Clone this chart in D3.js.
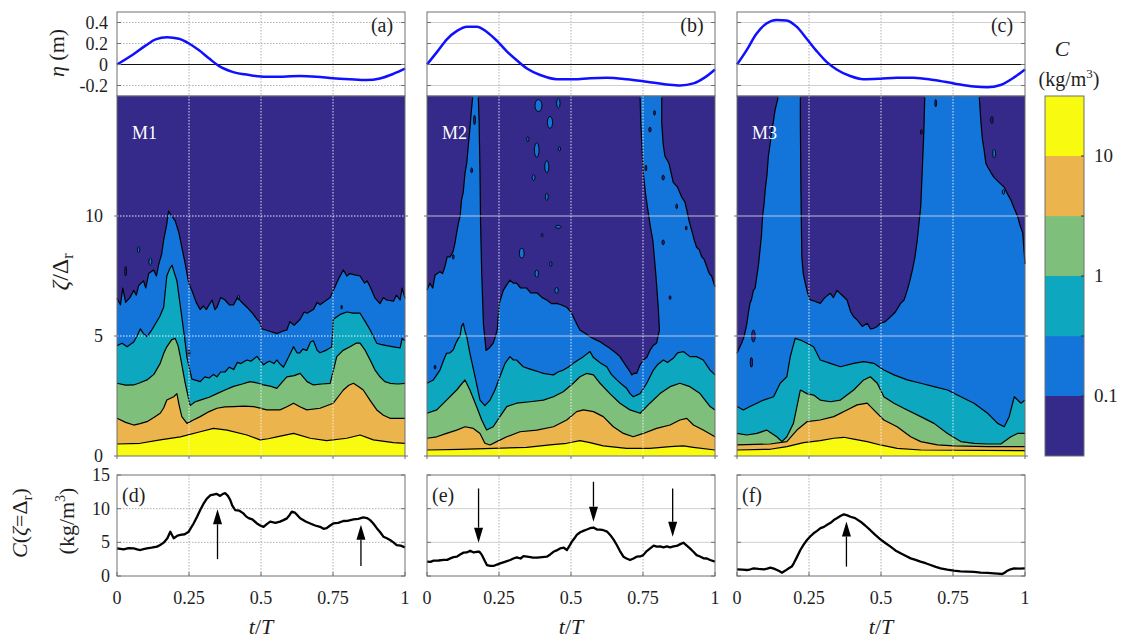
<!DOCTYPE html>
<html>
<head>
<meta charset="utf-8">
<script src="https://cdn.jsdelivr.net/npm/d3@7"></script>
<style>
  body { margin: 0; background: #fff; }
</style>
</head>
<body>
<svg id="fig" width="1126" height="642"></svg>
<script>
// ---------- axis ticks and labels ----------
const tTicks = [0, 0.25, 0.5, 0.75, 1];
const tTickLabels = ["0", "0.25", "0.5", "0.75", "1"];
const etaTicks = [-0.2, 0, 0.2, 0.4];
const etaTickLabels = ["-0.2", "0", "0.2", "0.4"];
const zetaTicks = [0, 5, 10];
const concTicks = [0, 5, 10, 15];
const cbTicks = [0.1, 1, 10];
const cbTickLabels = ["0.1", "1", "10"];

// contour levels of C (kg/m^3) and the colour of each band (lowest band first)
const levelValues = [0.1, 0.316, 1, 3.16, 10];
const bandColors = ["#35298A", "#1374DA", "#0DA8BF", "#7DBF7B", "#EBB44C", "#F8FA10"];

const topLetters = ["(a)", "(b)", "(c)"];
const botLetters = ["(d)", "(e)", "(f)"];
const caseNames = ["M1", "M2", "M3"];

// ---------- free-surface elevation eta(t/T), m ----------
const etaA = [[0,0],[.052,.088],[.099,.18],[.134,.24],[.174,.26],[.215,.245],[.25,.2],[.285,.135],[.32,.057],[.355,-.016],[.401,-.07],[.459,-.1],[.517,-.116],[.576,-.116],[.634,-.11],[.692,-.116],[.75,-.13],[.808,-.14],[.866,-.148],[.913,-.133],[.959,-.09],[1,-.04]];
const etaB = [[0,0],[.035,.12],[.069,.24],[.104,.32],[.139,.36],[.173,.36],[.208,.31],[.243,.225],[.277,.126],[.312,.04],[.347,-.038],[.393,-.1],[.451,-.14],[.509,-.14],[.566,-.13],[.624,-.126],[.694,-.14],[.763,-.164],[.832,-.19],[.879,-.2],[.925,-.18],[.965,-.123],[1,-.047]];
const etaC = [[0,0],[.033,.135],[.067,.29],[.102,.39],[.137,.425],[.172,.42],[.207,.36],[.242,.245],[.276,.13],[.311,.025],[.346,-.047],[.393,-.11],[.439,-.14],[.497,-.135],[.555,-.126],[.613,-.126],[.683,-.148],[.753,-.18],[.822,-.21],[.869,-.217],[.915,-.195],[.962,-.123],[1,-.047]];

// ---------- contour lines zeta/Delta_r(t/T) for each level, case M1 ----------
const m1_c01 = [[0,6.57],[.012,6.3],[.02,7.0],[.03,6.4],[.045,6.6],[.058,6.9],[.067,6.7],[.075,7.1],[.092,7.3],[.1,7.0],[.11,7.6],[.127,7.75],[.137,7.5],[.145,8.0],[.155,8.4],[.162,9.0],[.172,9.6],[.179,10.2],[.19,10.0],[.202,9.8],[.215,9.3],[.225,8.7],[.237,8.0],[.249,7.2],[.26,6.9],[.275,6.4],[.289,6.1],[.3,6.25],[.31,6.1],[.33,6.5],[.34,6.1],[.347,6.2],[.36,6.6],[.375,6.5],[.39,6.3],[.405,6.3],[.418,6.6],[.43,6.45],[.451,6.2],[.47,5.95],[.486,5.7],[.495,5.6],[.503,5.3],[.53,5.2],[.555,5.1],[.575,5.2],[.59,5.25],[.6,5.6],[.615,5.45],[.636,5.7],[.65,6.0],[.66,5.95],[.682,6.1],[.695,6.4],[.705,6.3],[.728,6.5],[.74,6.6],[.751,6.9],[.77,7.4],[.786,7.75],[.798,7.5],[.809,7.6],[.825,7.55],[.844,7.5],[.86,7.2],[.868,7.3],[.879,7.05],[.895,6.6],[.913,6.35],[.925,6.6],[.936,6.5],[.96,6.45],[.97,6.7],[.983,6.5],[.99,7.0],[1,6.57]];
const m1_c03 = [[0,4.6],[.018,4.7],[.035,4.55],[.058,4.75],[.07,5.0],[.081,5.3],[.092,5.1],[.104,4.97],[.118,5.2],[.133,5.5],[.148,5.8],[.162,6.2],[.173,7.5],[.183,7.8],[.191,7.95],[.2,7.6],[.208,7.3],[.217,6.5],[.225,5.8],[.235,4.9],[.243,4.1],[.26,3.2],[.275,3.15],[.289,3.1],[.305,3.3],[.32,3.25],[.335,3.4],[.347,3.3],[.36,3.5],[.375,3.5],[.39,3.7],[.405,3.6],[.418,3.9],[.43,3.85],[.451,4.0],[.465,3.95],[.486,4.15],[.509,3.8],[.52,3.9],[.53,3.95],[.545,3.85],[.555,4.0],[.565,3.85],[.578,3.7],[.595,4.1],[.613,4.55],[.625,4.3],[.635,4.3],[.645,4.45],[.659,4.4],[.672,4.75],[.682,4.8],[.695,4.4],[.705,4.3],[.725,4.4],[.746,4.55],[.751,5.7],[.775,5.9],[.798,6.0],[.82,5.95],[.844,5.95],[.862,5.6],[.879,5.25],[.902,4.7],[.915,4.65],[.936,4.6],[.96,4.55],[.983,4.5],[.99,4.9],[1,4.8]];
const m1_c1 = [[0,3.03],[.03,2.95],[.058,2.96],[.08,3.05],[.104,3.17],[.128,3.4],[.15,3.86],[.163,4.3],[.173,4.55],[.19,4.85],[.202,4.9],[.212,4.6],[.22,4.14],[.237,3.03],[.254,2.1],[.27,2.25],[.289,2.33],[.32,2.45],[.347,2.6],[.375,2.75],[.405,2.9],[.435,3.0],[.462,3.1],[.485,3.05],[.509,2.96],[.535,2.9],[.555,2.82],[.575,3.1],[.59,3.3],[.615,3.35],[.636,3.44],[.66,3.1],[.682,2.96],[.71,3.0],[.74,3.03],[.752,3.6],[.763,4.14],[.785,4.4],[.809,4.55],[.83,4.7],[.844,4.7],[.862,4.4],[.879,4.0],[.895,3.6],[.913,3.3],[.93,3.1],[.948,3.03],[.975,3.0],[1,3.03]];
const m1_c3 = [[0,1.57],[.03,1.4],[.058,1.29],[.08,1.35],[.104,1.43],[.128,1.6],[.15,1.78],[.162,2.0],[.173,2.33],[.197,2.47],[.208,2.6],[.216,2.1],[.225,1.64],[.243,1.36],[.265,1.5],[.289,1.64],[.32,1.85],[.347,1.99],[.375,2.05],[.405,2.06],[.44,2.08],[.474,2.06],[.52,1.92],[.566,1.92],[.59,2.05],[.613,2.2],[.635,2.05],[.659,1.92],[.705,1.99],[.751,2.2],[.77,2.5],[.786,2.75],[.805,2.95],[.821,3.03],[.838,2.9],[.855,2.75],[.88,2.3],[.902,1.92],[.925,1.7],[.948,1.57],[1,1.57]];
const m1_c10 = [[0,.5],[.081,.53],[.15,.67],[.22,.8],[.289,1.01],[.335,1.15],[.382,1.08],[.451,.875],[.497,.67],[.525,.72],[.555,.8],[.613,.94],[.671,.74],[.728,.64],[.798,.74],[.844,.875],[.89,.67],[.96,.56],[1,.53]];

// ---------- contour lines, case M2 ----------
const m2_c01 = [[0,6.92],[.01,7.2],[.02,7.0],[.028,7.54],[.045,7.68],[.054,7.6],[.0625,7.9],[.07,8.3],[.08,8.3],[.09,8.5],[.097,8.86],[.103,9.3],[.109,9.7],[.115,10.0],[.12,10.67],[.126,11.0],[.132,11.8],[.138,12.2],[.144,13.0],[.148,13.5],[.152,14.1],[.159,15],[.178,15],[.181,13.9],[.184,11.8],[.186,9.7],[.19,7.6],[.196,5.5],[.205,4.4],[.216,4.5],[.23,4.7],[.244,5.25],[.251,6.36],[.265,6.9],[.275,7.1],[.288,7.33],[.3,7.2],[.311,7.2],[.325,7.0],[.346,7.0],[.36,6.8],[.381,6.8],[.4,6.6],[.416,6.5],[.432,6.35],[.45,6.36],[.465,6.3],[.485,6.2],[.5,6.0],[.508,5.8],[.52,5.5],[.531,5.25],[.55,5.1],[.566,4.97],[.585,4.85],[.601,4.76],[.62,4.6],[.635,4.49],[.655,4.3],[.67,4.14],[.683,3.9],[.693,3.72],[.703,3.55],[.711,3.38],[.72,3.45],[.728,3.44],[.74,3.8],[.751,4.0],[.763,4.1],[.774,4.4],[.785,4.6],[.797,4.7],[.807,5.25],[.803,6.2],[.795,7.5],[.79,8.2],[.784,9.0],[.775,9.6],[.765,10.4],[.758,11.0],[.751,11.8],[.748,12.5],[.745,13.2],[.742,14.0],[.74,15],[.815,15],[.815,13.9],[.82,13.0],[.826,12.5],[.84,12.2],[.855,11.4],[.87,11.2],[.884,10.8],[.895,10.6],[.902,10.25],[.91,9.8],[.919,9.4],[.928,9.0],[.936,8.7],[.945,8.6],[.954,8.3],[.962,8.2],[.971,7.9],[.98,7.6],[.988,7.5],[1,7.05]];
const m2_c03 = [[0,3.03],[.022,3.17],[.045,3.58],[.058,4.0],[.068,4.28],[.08,4.3],[.091,4.42],[.1,4.7],[.109,4.9],[.115,5.0],[.12,5.4],[.126,5.53],[.132,5.2],[.138,4.97],[.149,4.28],[.167,3.3],[.184,2.33],[.201,2.1],[.219,2.33],[.236,2.75],[.253,3.3],[.271,3.86],[.288,4.14],[.3,4.0],[.311,4.0],[.334,3.72],[.35,3.65],[.369,3.58],[.39,3.5],[.404,3.44],[.425,3.4],[.439,3.38],[.455,3.5],[.473,3.58],[.49,3.7],[.508,3.86],[.525,4.0],[.543,4.14],[.566,4.35],[.578,4.1],[.589,4.0],[.605,3.85],[.624,3.72],[.64,3.4],[.659,3.17],[.675,3.0],[.693,2.82],[.705,2.6],[.716,2.47],[.74,2.6],[.763,3.03],[.786,3.58],[.8,3.8],[.821,4.0],[.835,3.9],[.855,4.07],[.87,4.3],[.89,4.35],[.913,4.14],[.936,4.14],[.959,4.0],[.983,3.58],[1,3.38]];
const m2_c1 = [[0,1.78],[.034,1.92],[.068,2.33],[.103,2.75],[.12,3.0],[.132,3.17],[.149,2.75],[.172,2.06],[.19,1.5],[.207,1.08],[.23,1.22],[.253,1.64],[.277,2.06],[.311,2.2],[.358,2.26],[.404,2.33],[.439,2.47],[.473,2.68],[.508,3.03],[.531,3.3],[.554,3.44],[.578,3.38],[.601,3.03],[.635,2.6],[.67,2.2],[.705,1.92],[.74,1.78],[.774,2.2],[.809,2.6],[.844,2.89],[.878,3.03],[.913,2.89],[.948,2.6],[.983,2.06],[1,1.92]];
const m2_c3 = [[0,.74],[.034,.8],[.068,.94],[.103,1.08],[.132,1.22],[.161,1.15],[.184,.94],[.201,.53],[.219,.46],[.242,.6],[.277,.8],[.323,1.01],[.381,1.08],[.439,1.22],[.485,1.5],[.52,1.85],[.543,1.92],[.578,1.85],[.612,1.64],[.647,1.22],[.682,.94],[.716,.8],[.751,.94],[.797,1.15],[.844,1.29],[.878,1.5],[.902,1.57],[.925,1.29],[.959,1.08],[1,.8]];
const m2_c10 = [[0,.25],[.115,.28],[.23,.32],[.346,.36],[.427,.46],[.485,.53],[.531,.64],[.566,.56],[.612,.42],[.693,.32],[.774,.32],[.844,.39],[.89,.42],[.925,.36],[1,.25]];

// ---------- contour lines, case M3 ----------
const m3_c01 = [[0,4.28],[.008,4.5],[.016,4.7],[.025,5.0],[.034,5.5],[.04,6.0],[.045,6.36],[.05,6.5],[.057,6.9],[.063,7.0],[.069,7.5],[.075,8.0],[.08,8.6],[.085,9.2],[.089,10.0],[.094,10.5],[.098,11.1],[.104,11.7],[.109,12.5],[.115,13.0],[.121,13.6],[.126,13.9],[.132,14.4],[.138,14.7],[.144,15],[.22,15],[.22,13.9],[.222,11.1],[.225,8.3],[.23,7.6],[.237,7.2],[.245,6.8],[.254,6.5],[.27,6.45],[.289,6.36],[.305,6.6],[.324,6.78],[.335,6.6],[.347,6.9],[.365,6.7],[.382,6.5],[.395,6.0],[.405,5.8],[.417,5.67],[.435,5.4],[.452,5.53],[.463,5.3],[.475,5.32],[.487,5.4],[.498,5.53],[.515,5.6],[.533,5.8],[.55,6.0],[.568,6.36],[.58,6.5],[.591,6.9],[.6,7.3],[.609,7.75],[.618,8.3],[.626,9.0],[.632,9.7],[.638,10.4],[.643,11.8],[.646,12.7],[.649,13.6],[.652,15],[.841,15],[.847,13.9],[.852,13.2],[.858,12.75],[.864,12.2],[.87,12.05],[.882,11.8],[.893,11.6],[.91,11.4],[.928,11.2],[.94,10.9],[.951,10.67],[.963,10.3],[.974,10.0],[.983,9.6],[.992,9.3],[1,8.0]];
const m3_c03 = [[0,2.06],[.022,1.92],[.045,2.06],[.069,2.2],[.092,2.33],[.127,2.47],[.15,3.03],[.173,3.3],[.185,4.14],[.202,4.9],[.22,4.83],[.243,4.7],[.266,4.55],[.289,4.0],[.324,3.86],[.359,3.72],[.405,3.86],[.44,3.93],[.475,3.86],[.51,3.58],[.545,3.38],[.591,3.17],[.638,3.03],[.684,2.89],[.731,2.75],[.777,2.47],[.823,2.2],[.87,1.78],[.905,1.36],[.928,1.22],[.945,1.64],[.963,2.47],[.986,2.2],[1,2.33]];
const m3_c1 = [[0,.94],[.034,.875],[.069,.94],[.103,1.08],[.138,.8],[.156,.6],[.173,.8],[.196,1.36],[.22,2.75],[.243,2.6],[.266,2.54],[.289,2.33],[.324,2.26],[.359,2.33],[.405,2.75],[.44,3.17],[.463,3.3],[.487,3.03],[.51,2.47],[.545,2.2],[.591,1.92],[.638,1.64],[.684,1.36],[.731,.94],[.777,.6],[.823,.53],[.87,.5],[.916,.5],[.951,.8],[.974,.94],[1,.94]];
const m3_c3 = [[0,.46],[.115,.5],[.173,.6],[.208,1.08],[.243,1.43],[.289,1.5],[.336,1.64],[.382,1.92],[.417,2.13],[.452,2.2],[.475,1.92],[.51,1.5],[.556,1.22],[.603,.8],[.638,.6],[.696,.46],[.754,.42],[.87,.39],[1,.39]];
const m3_c10 = [[0,.25],[.115,.28],[.173,.39],[.231,.56],[.289,.64],[.336,.74],[.371,.78],[.405,.7],[.452,.6],[.498,.46],[.556,.32],[.638,.25],[1,.22]];

// ---------- detached patches: [t/T, zeta, half-width in t/T, half-height in zeta] ----------
// "up" patches carry C > 0.1 inside the low-concentration region, "down" are low-C holes
const m1_up = [[.075,8.6,.004,.12],[.116,8.1,.005,.15],[.422,6.6,.004,.1]];
const m1_down = [[.03,7.7,.003,.2],[.25,4.3,.003,.12],[.78,6.2,.002,.08]];
const m2_up = [[.387,14.6,.012,.25],[.427,13.9,.009,.25],[.456,14.7,.006,.2],[.381,12.75,.008,.3],[.416,12.05,.007,.25],[.416,10.8,.005,.15],[.329,8.45,.008,.2],[.381,7.6,.006,.15],[.45,6.9,.006,.12],[.456,9.55,.01,.06],[.35,13.2,.004,.1],[.4,9.2,.003,.07],[.46,12.8,.004,.08],[.37,11.6,.005,.12],[.43,8.0,.004,.1]];
const m2_down = [[.774,13.6,.004,.1],[.82,11.6,.004,.1],[.867,10.4,.003,.1],[.82,8.9,.004,.1],[.844,6.6,.003,.08],[.155,11.9,.003,.1],[.091,8.3,.003,.1],[.028,3.7,.003,.08],[.165,14.0,.003,.2],[.76,12.0,.003,.12],[.9,9.5,.003,.08],[.79,14.3,.003,.1]];
const m3_up = [[.893,12.6,.005,.18],[.925,11.0,.004,.1]];
const m3_down = [[.057,5.0,.006,.25],[.05,3.9,.004,.2],[.69,14.7,.003,.15],[.885,14.0,.004,.15],[.64,13.5,.003,.1]];

// ---------- near-bed concentration C(zeta = Delta_r), kg/m^3 ----------
const concA = [[0,4.1],[.023,3.96],[.04,4.15],[.058,4.1],[.07,3.95],[.081,3.86],[.092,4.0],[.104,4.1],[.12,4.2],[.139,4.36],[.15,4.6],[.162,4.95],[.175,5.6],[.185,6.58],[.197,5.6],[.21,6.0],[.22,6.1],[.235,6.2],[.249,6.58],[.266,7.8],[.278,8.8],[.289,9.8],[.3,10.7],[.312,11.5],[.325,12.0],[.335,12.1],[.345,12.2],[.358,11.9],[.368,12.2],[.376,12.3],[.385,11.9],[.393,11.3],[.4,10.5],[.41,9.8],[.425,9.7],[.439,9.3],[.447,8.9],[.457,8.6],[.47,8.4],[.486,7.8],[.497,7.5],[.509,7.3],[.52,7.7],[.532,8.07],[.55,7.9],[.566,8.07],[.578,8.3],[.59,8.56],[.6,9.1],[.607,9.55],[.618,9.4],[.627,9.0],[.636,8.56],[.655,8.1],[.671,7.8],[.688,7.5],[.705,7.3],[.717,7.0],[.728,7.1],[.74,7.5],[.751,7.8],[.768,7.9],[.786,8.17],[.8,8.2],[.821,8.4],[.838,8.5],[.855,8.7],[.868,8.6],[.879,8.3],[.89,7.8],[.902,7.1],[.914,6.5],[.925,5.84],[.937,5.6],[.948,5.35],[.96,5.0],[.971,4.6],[.985,4.5],[1,4.26]];
const concB = [[0,2.13],[.012,2.1],[.023,2.28],[.04,2.3],[.058,2.38],[.07,2.4],[.081,2.62],[.092,2.8],[.104,2.87],[.115,3.2],[.127,3.47],[.138,3.5],[.15,3.76],[.162,3.5],[.173,3.6],[.182,3.6],[.191,3.1],[.2,2.3],[.208,1.63],[.22,1.5],[.231,1.49],[.243,1.7],[.254,1.88],[.27,2.1],[.289,2.38],[.3,2.6],[.312,2.77],[.325,2.6],[.335,2.95],[.347,2.87],[.365,2.75],[.382,2.72],[.4,2.8],[.416,2.87],[.428,3.2],[.439,3.6],[.45,3.8],[.462,4.1],[.475,4.2],[.486,3.86],[.495,4.5],[.503,5.1],[.512,5.6],[.52,6.1],[.532,6.5],[.543,6.7],[.555,6.9],[.566,7.1],[.578,7.2],[.59,6.9],[.601,6.9],[.613,6.8],[.625,6.6],[.636,6.1],[.648,5.4],[.659,4.6],[.67,3.7],[.682,2.87],[.693,2.6],[.705,2.38],[.717,2.6],[.728,2.87],[.74,2.9],[.751,3.1],[.763,3.7],[.775,4.1],[.787,4.5],[.798,4.36],[.81,4.4],[.821,4.26],[.833,4.4],[.844,4.26],[.856,4.4],[.867,4.46],[.878,4.7],[.89,4.95],[.9,4.6],[.913,4.1],[.925,3.6],[.936,3.1],[.948,2.9],[.96,2.62],[.972,2.6],[.983,2.38],[1,2.13]];
const concC = [[0,.99],[.018,.95],[.035,.89],[.047,1.0],[.058,1.14],[.075,1.05],[.093,.99],[.105,1.1],[.116,1.24],[.128,1.1],[.139,.89],[.148,.7],[.156,.5],[.168,.8],[.18,1.14],[.19,1.4],[.197,1.88],[.208,2.8],[.22,3.86],[.232,4.7],[.243,5.35],[.255,5.9],[.266,6.34],[.278,6.7],[.29,7.1],[.302,7.3],[.313,7.6],[.325,7.9],[.336,8.3],[.348,8.6],[.359,8.9],[.371,9.16],[.383,9.0],[.394,8.8],[.41,8.6],[.429,8.07],[.445,7.5],[.463,6.8],[.48,6.1],[.498,5.45],[.515,4.9],[.533,4.36],[.55,3.8],[.568,3.37],[.585,3.0],[.603,2.62],[.62,2.4],[.637,2.13],[.655,1.9],[.672,1.63],[.69,1.35],[.707,1.14],[.73,0.95],[.753,.79],[.776,.7],[.8,.64],[.823,.6],[.846,.5],[.87,.45],[.892,.4],[.905,.35],[.921,.3],[.93,.5],[.939,.79],[.95,1.0],[.962,1.14],[.98,1.1],[1,1.14]];

// ---------- arrows: [t/T, tail C, head C] ----------
const arrowsA = [[.349, 2.5, 9.9], [.847, 1.5, 7.6]];
const arrowsB = [[.179, 13.0, 4.95], [.578, 14.0, 8.07], [.853, 13.0, 5.84]];
const arrowsC = [[.38, 1.4, 8.1]];

// ---------- assemble per column ----------
const etaSeries = [etaA, etaB, etaC];
const contourSets = [
  [m1_c01, m1_c03, m1_c1, m1_c3, m1_c10],
  [m2_c01, m2_c03, m2_c1, m2_c3, m2_c10],
  [m3_c01, m3_c03, m3_c1, m3_c3, m3_c10]
];
const patchesUp = [m1_up, m2_up, m3_up];
const patchesDown = [m1_down, m2_down, m3_down];
const concSeries = [concA, concB, concC];
const arrowSets = [arrowsA, arrowsB, arrowsC];

// ---------- layout ----------
const FONT = "Liberation Serif, Liberation Sans, Arial, sans-serif";
const svg = d3.select("#fig").style("font-family", FONT);
const defs = svg.append("defs");
const colLeft = [117, 427, 737];
const colW = 288;
const etaBox = [12, 96];
const conBox = [96, 456];
const concBox = [475, 576];
const frameColor = "#707070";
const tickFont = 18;

function txt(g) {
  return g.append("text").style("font-family", FONT).attr("fill", "#1e1e1e");
}
function hGridStyle(sel, col, onDark) {
  if (onDark) {
    sel.attr("stroke", col === 0 ? "#ffffff" : "#d8d8e0")
       .attr("stroke-opacity", col === 0 ? 0.9 : 0.85)
       .attr("stroke-width", 1)
       .attr("stroke-dasharray", col === 0 ? "1.5,1.5" : null);
  } else {
    sel.attr("stroke", col === 0 ? "#b0b0b0" : "#d0d0d0")
       .attr("stroke-width", 1)
       .attr("stroke-dasharray", col === 0 ? "1.5,1.5" : null);
  }
}
function vGridStyle(sel, onDark) {
  sel.attr("stroke", onDark ? "#ffffff" : "#b0b0b0")
     .attr("stroke-opacity", onDark ? 0.85 : 1)
     .attr("stroke-width", 1)
     .attr("stroke-dasharray", "1.5,1.5");
}
function tickText(g, data, fmt) {
  return g.selectAll(null).data(data).join("text")
    .style("font-family", FONT).attr("fill", "#1e1e1e")
    .attr("font-size", tickFont).text(fmt);
}

for (let c = 0; c < 3; c++) {
  const x0 = colLeft[c], x1 = colLeft[c] + colW;
  const x = d3.scaleLinear().domain([0, 1]).range([x0, x1]);

  // ===== eta panel =====
  const yE = d3.scaleLinear().domain([-0.3, 0.5]).range([etaBox[1], etaBox[0]]);
  const gE = svg.append("g");
  gE.append("rect").attr("x", x0).attr("y", etaBox[0]).attr("width", colW)
    .attr("height", etaBox[1] - etaBox[0]).attr("fill", "#fff");
  gE.selectAll(null).data(tTicks.slice(1, -1)).join("line")
    .attr("x1", d => x(d)).attr("x2", d => x(d))
    .attr("y1", etaBox[0]).attr("y2", etaBox[1]).call(vGridStyle, false);
  gE.selectAll(null).data(etaTicks.filter(v => v !== 0)).join("line")
    .attr("x1", x0).attr("x2", x1)
    .attr("y1", d => yE(d)).attr("y2", d => yE(d)).call(hGridStyle, c, false);
  gE.append("line").attr("x1", x0).attr("x2", x1)
    .attr("y1", yE(0)).attr("y2", yE(0)).attr("stroke", "#111").attr("stroke-width", 1.2);
  gE.append("path").datum(etaSeries[c])
    .attr("d", d3.line().x(d => x(d[0])).y(d => yE(d[1])).curve(d3.curveMonotoneX))
    .attr("fill", "none").attr("stroke", "#1010ff").attr("stroke-width", 2.5);
  gE.append("rect").attr("x", x0).attr("y", etaBox[0]).attr("width", colW)
    .attr("height", etaBox[1] - etaBox[0]).attr("fill", "none")
    .attr("stroke", frameColor).attr("stroke-width", 1);
  gE.selectAll(null).data(etaTicks).join("line")
    .attr("x1", x0).attr("x2", x0 + 4).attr("y1", d => yE(d)).attr("y2", d => yE(d))
    .attr("stroke", frameColor);
  gE.selectAll(null).data(etaTicks).join("line")
    .attr("x1", x1 - 4).attr("x2", x1).attr("y1", d => yE(d)).attr("y2", d => yE(d))
    .attr("stroke", frameColor);
  if (c === 0) {
    tickText(gE, etaTicks, (d, i) => etaTickLabels[i])
      .attr("x", x0 - 9).attr("y", d => yE(d)).attr("dy", "0.34em")
      .attr("text-anchor", "end");
  }
  txt(gE).attr("x", x(1) - 23).attr("y", 25).attr("dy", "0.34em")
    .attr("text-anchor", "middle").attr("font-size", 20).text(topLetters[c]);

  // ===== concentration contour panel =====
  const yZ = d3.scaleLinear().domain([0, 15]).range([conBox[1], conBox[0]]);
  const clipId = "clipc" + c, clipS = "clips" + c;
  defs.append("clipPath").attr("id", clipId).append("rect")
    .attr("x", x0).attr("y", conBox[0]).attr("width", colW).attr("height", conBox[1] - conBox[0]);
  defs.append("clipPath").attr("id", clipS).append("rect")
    .attr("x", x0 - 1).attr("y", conBox[0] + 1.5).attr("width", colW + 2).attr("height", conBox[1] - conBox[0] - 1.5);
  const gC = svg.append("g").attr("clip-path", `url(#${clipId})`);
  gC.append("rect").attr("x", x0).attr("y", conBox[0]).attr("width", colW)
    .attr("height", conBox[1] - conBox[0]).attr("fill", bandColors[0]);

  const line = d3.line().x(d => x(d[0])).y(d => yZ(d[1]));
  const sets = contourSets[c];
  const strokes = svg.append("g").attr("clip-path", `url(#${clipS})`);
  sets.forEach((pts, k) => {
    const poly = pts.concat([[1, 0], [0, 0]]);
    gC.append("path").attr("d", line(poly) + "Z").attr("fill", bandColors[k + 1]);
    if (k === 0) {
      const drawPatch = (arr, fill) => {
        gC.selectAll(null).data(arr).join("ellipse")
          .attr("cx", d => x(d[0])).attr("cy", d => yZ(d[1]))
          .attr("rx", d => x(d[0] + d[2]) - x(d[0]))
          .attr("ry", d => yZ(d[1]) - yZ(d[1] + d[3]))
          .attr("fill", fill).attr("stroke", "#000").attr("stroke-width", 0.9);
      };
      drawPatch(patchesUp[c], bandColors[1]);
      drawPatch(patchesDown[c], bandColors[0]);
    }
  });
  sets.forEach(pts => {
    strokes.append("path").attr("d", line(pts)).attr("fill", "none")
      .attr("stroke", "#000").attr("stroke-width", 1.2).attr("stroke-linejoin", "round");
  });
  const gG = svg.append("g");
  gG.selectAll(null).data(tTicks.slice(1, -1)).join("line")
    .attr("x1", d => x(d)).attr("x2", d => x(d))
    .attr("y1", conBox[0]).attr("y2", conBox[1]).call(vGridStyle, true);
  gG.selectAll(null).data(zetaTicks.filter(v => v > 0)).join("line")
    .attr("x1", x0).attr("x2", x1)
    .attr("y1", d => yZ(d)).attr("y2", d => yZ(d)).call(hGridStyle, c, true);
  gG.append("rect").attr("x", x0).attr("y", conBox[0]).attr("width", colW)
    .attr("height", conBox[1] - conBox[0]).attr("fill", "none")
    .attr("stroke", frameColor).attr("stroke-width", 1);
  gG.selectAll(null).data(tTicks).join("line")
    .attr("x1", d => x(d)).attr("x2", d => x(d)).attr("y1", conBox[1]).attr("y2", conBox[1] + 3)
    .attr("stroke", frameColor);
  gG.selectAll(null).data(zetaTicks).join("line")
    .attr("x1", x0 - 3).attr("x2", x0).attr("y1", d => yZ(d)).attr("y2", d => yZ(d))
    .attr("stroke", frameColor);
  gG.selectAll(null).data(zetaTicks).join("line")
    .attr("x1", x1).attr("x2", x1 + 3).attr("y1", d => yZ(d)).attr("y2", d => yZ(d))
    .attr("stroke", frameColor);
  if (c === 0) {
    tickText(gG, zetaTicks, d => d)
      .attr("x", x0 - 14).attr("y", d => yZ(d)).attr("dy", "0.34em")
      .attr("text-anchor", "end");
  }
  txt(gG).attr("x", x0 + 15).attr("y", 133).attr("dy", "0.34em")
    .attr("font-size", 18).attr("fill", "#fff").text(caseNames[c]);

  // ===== near-bed concentration panel =====
  const yC = d3.scaleLinear().domain([0, 15]).range([concBox[1], concBox[0]]);
  const gB = svg.append("g");
  gB.append("rect").attr("x", x0).attr("y", concBox[0]).attr("width", colW)
    .attr("height", concBox[1] - concBox[0]).attr("fill", "#fff");
  gB.selectAll(null).data(tTicks.slice(1, -1)).join("line")
    .attr("x1", d => x(d)).attr("x2", d => x(d))
    .attr("y1", concBox[0]).attr("y2", concBox[1]).call(vGridStyle, false);
  gB.selectAll(null).data(concTicks.slice(1, -1)).join("line")
    .attr("x1", x0).attr("x2", x1)
    .attr("y1", d => yC(d)).attr("y2", d => yC(d)).call(hGridStyle, c, false);
  gB.append("path").datum(concSeries[c])
    .attr("d", d3.line().x(d => x(d[0])).y(d => yC(d[1])))
    .attr("fill", "none").attr("stroke", "#000").attr("stroke-width", 2.3)
    .attr("stroke-linejoin", "round");
  arrowSets[c].forEach(a => {
    const ax = x(a[0]), yt = yC(a[1]), yh = yC(a[2]);
    const dir = yh < yt ? 1 : -1;
    const headLen = 15, headHalf = 4.5;
    const yBase = yh + dir * headLen;
    gB.append("line").attr("x1", ax).attr("x2", ax).attr("y1", yt).attr("y2", yBase)
      .attr("stroke", "#000").attr("stroke-width", 1.3);
    gB.append("path")
      .attr("d", `M${ax},${yh}L${ax - headHalf},${yBase}L${ax + headHalf},${yBase}Z`)
      .attr("fill", "#000");
  });
  gB.append("rect").attr("x", x0).attr("y", concBox[0]).attr("width", colW)
    .attr("height", concBox[1] - concBox[0]).attr("fill", "none")
    .attr("stroke", frameColor).attr("stroke-width", 1);
  gB.selectAll(null).data(concTicks).join("line")
    .attr("x1", x0).attr("x2", x0 + 4).attr("y1", d => yC(d)).attr("y2", d => yC(d))
    .attr("stroke", frameColor);
  gB.selectAll(null).data(concTicks).join("line")
    .attr("x1", x1 - 4).attr("x2", x1).attr("y1", d => yC(d)).attr("y2", d => yC(d))
    .attr("stroke", frameColor);
  gB.selectAll(null).data(tTicks).join("line")
    .attr("x1", d => x(d)).attr("x2", d => x(d)).attr("y1", concBox[1] - 4).attr("y2", concBox[1])
    .attr("stroke", frameColor);
  if (c === 0) {
    tickText(gB, concTicks, d => d)
      .attr("x", x0 - 7).attr("y", d => yC(d)).attr("dy", "0.34em")
      .attr("text-anchor", "end");
  }
  tickText(gB, tTicks, (d, i) => tTickLabels[i])
    .attr("x", d => x(d)).attr("y", 598).attr("dy", "0.34em")
    .attr("text-anchor", "middle");
  txt(gB).attr("x", x0 + 5).attr("y", 495).attr("dy", "0.34em")
    .attr("font-size", 20).text(botLetters[c]);
  const xl = txt(gB).attr("x", x(0.5)).attr("y", 627).attr("dy", "0.34em")
    .attr("text-anchor", "middle").attr("font-size", 22);
  xl.append("tspan").attr("font-style", "italic").text("t");
  xl.append("tspan").text("/");
  xl.append("tspan").attr("font-style", "italic").text("T");
}

// ===== y-axis titles =====
const yt1 = txt(svg).attr("transform", "translate(57,53) rotate(-90)")
  .attr("text-anchor", "middle").attr("dy", "0.34em").attr("font-size", 22);
yt1.append("tspan").attr("font-style", "italic").text("η");
yt1.append("tspan").text(" (m)");

const yt2 = txt(svg).attr("transform", "translate(60,272) rotate(-90)")
  .attr("text-anchor", "middle").attr("dy", "0.34em").attr("font-size", 24);
yt2.append("tspan").attr("font-style", "italic").text("ζ");
yt2.append("tspan").text("/Δ");
yt2.append("tspan").attr("font-size", 16).attr("dy", 5).text("r");

const yt3 = txt(svg).attr("transform", "translate(20,523) rotate(-90)")
  .attr("text-anchor", "middle").attr("dy", "0.34em").attr("font-size", 22);
yt3.append("tspan").attr("font-style", "italic").text("C");
yt3.append("tspan").text("(");
yt3.append("tspan").attr("font-style", "italic").text("ζ");
yt3.append("tspan").text("=Δ");
yt3.append("tspan").attr("font-size", 15).attr("dy", 5).text("r");
yt3.append("tspan").attr("dy", -5).text(")");

const yt4 = txt(svg).attr("transform", "translate(67,521) rotate(-90)")
  .attr("text-anchor", "middle").attr("dy", "0.34em").attr("font-size", 22);
yt4.append("tspan").text("(kg/m");
yt4.append("tspan").attr("font-size", 14).attr("dy", -9).text("3");
yt4.append("tspan").attr("dy", 9).text(")");

// ===== colour bar =====
const cbX = 1045, cbW = 39;
const yCb = d3.scaleLog().domain([Math.pow(10, -1.5), Math.pow(10, 1.5)]).range([conBox[1], conBox[0]]);
const bandEdges = [Math.pow(10, -1.5)].concat(levelValues, [Math.pow(10, 1.5)]);
const gCb = svg.append("g");
gCb.selectAll(null).data(bandColors).join("rect")
  .attr("x", cbX).attr("width", cbW)
  .attr("y", (d, i) => yCb(bandEdges[i + 1]))
  .attr("height", (d, i) => yCb(bandEdges[i]) - yCb(bandEdges[i + 1]))
  .attr("fill", d => d);
gCb.append("rect").attr("x", cbX).attr("y", conBox[0]).attr("width", cbW)
  .attr("height", conBox[1] - conBox[0]).attr("fill", "none")
  .attr("stroke", frameColor).attr("stroke-width", 1);
gCb.selectAll(null).data(levelValues).join("line")
  .attr("x1", cbX + cbW - 3).attr("x2", cbX + cbW)
  .attr("y1", d => yCb(d)).attr("y2", d => yCb(d)).attr("stroke", "#333");
gCb.selectAll(null).data(cbTicks).join("text")
  .style("font-family", FONT).attr("fill", "#1e1e1e")
  .attr("x", cbX + cbW + 10).attr("y", d => yCb(d)).attr("dy", "0.34em")
  .attr("font-size", 19).text((d, i) => cbTickLabels[i]);
txt(gCb).attr("x", 1062).attr("y", 49).attr("dy", "0.34em")
  .attr("text-anchor", "middle").attr("font-size", 22).attr("font-style", "italic").text("C");
const cbU = txt(gCb).attr("x", 1069).attr("y", 79).attr("dy", "0.34em")
  .attr("text-anchor", "middle").attr("font-size", 20);
cbU.append("tspan").text("(kg/m");
cbU.append("tspan").attr("font-size", 13).attr("dy", -8).text("3");
cbU.append("tspan").attr("dy", 8).text(")");
</script>
</body>
</html>
